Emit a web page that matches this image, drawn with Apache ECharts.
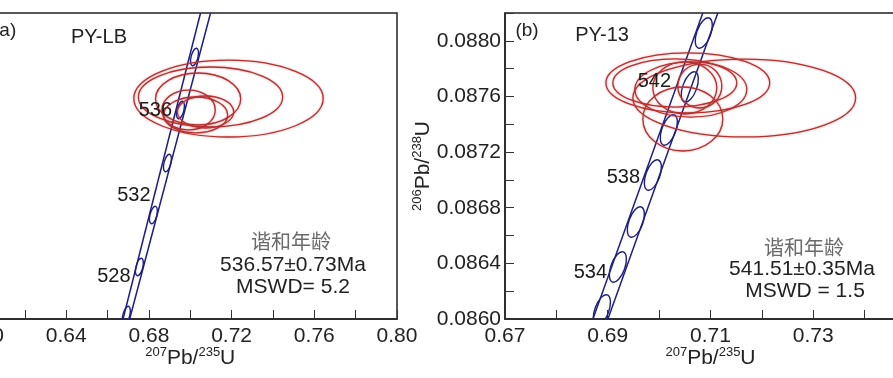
<!DOCTYPE html>
<html>
<head>
<meta charset="utf-8">
<script src="https://cdn.jsdelivr.net/npm/echarts@6/dist/echarts.min.js"></script>
<style>
  html, body { margin: 0; padding: 0; background: #fff; }
  #chart { width: 893px; height: 378px; }
</style>
</head>
<body>
<div id="chart"></div>
<script>
  // ---- 数据 (a) PY-LB ----
  // 椭圆: [207Pb/235U, 206Pb/238U, 半轴x, 半轴y]
  const ellipsesA = [
    [0.7185, 0.086882, 0.0458, 0.000503],
    [0.7098, 0.086902, 0.0349, 0.000392],
    [0.7038, 0.086876, 0.0206, 0.000340],
    [0.6992, 0.086732, 0.0129, 0.000261],
    [0.7026, 0.086667, 0.0155, 0.000235],
    [0.7074, 0.086706, 0.0136, 0.000209]
  ];
  // 谐和线刻度点
  const ticksA = [
    [0.66909, 0.084052], [0.67539, 0.084680], [0.68218, 0.085359],
    [0.68897, 0.086039], [0.69527, 0.086732], [0.70206, 0.087425]
  ];
  const bandALeft = [[0.66749, 0.0840], [0.70497, 0.0880]];
  const bandARight = [[0.67069, 0.0840], [0.70982, 0.0880]];
  const ageLabelsA = [[0.66303, 0.084562, '528'], [0.67273, 0.085614, '532'], [0.68315, 0.086732, '536']];

  // ---- 数据 (b) PY-13 ----
  const ellipsesB = [
    [0.71657, 0.087589, 0.02168, 0.000280],
    [0.70558, 0.087697, 0.01594, 0.000216],
    [0.70305, 0.087697, 0.01206, 0.000173],
    [0.70461, 0.087438, 0.00778, 0.000230],
    [0.70500, 0.087661, 0.00622, 0.000187],
    [0.70792, 0.087675, 0.00428, 0.000158],
    [0.70617, 0.087650, 0.01089, 0.000198]
  ];
  const ticksB = [
    [0.68886, 0.086065], [0.69197, 0.086374], [0.69547, 0.086697],
    [0.69878, 0.087035], [0.70189, 0.087359], [0.70597, 0.087668], [0.70869, 0.088056]
  ];
  const bandBLeft = [[0.68711, 0.0860], [0.70850, 0.0882]];
  const bandBRight = [[0.69003, 0.0860], [0.71142, 0.0882]];
  const ageLabelsB = [[0.69907, 0.087708, '542'], [0.69304, 0.087017, '538'], [0.68662, 0.086334, '534']];

  const FONT = '"Liberation Sans", Arial, "Noto Sans CJK SC", sans-serif';
  const RED = '#b23232';
  const BLUE = '#1e1e82';

  const chart = echarts.init(document.getElementById('chart'));

  const ellipseItem = (params, api) => {
    const c = api.coord([api.value(0), api.value(1)]);
    const s = api.size([api.value(2), api.value(3)]);
    return {
      type: 'ellipse',
      shape: { cx: c[0], cy: c[1], rx: s[0], ry: s[1] },
      style: { fill: 'none', stroke: RED, lineWidth: 1.3, shadowBlur: 2, shadowColor: 'rgba(220,40,40,0.5)' }
    };
  };

  const tickItem = (band, rx, ry) => (params, api) => {
    const c = api.coord([api.value(0), api.value(1)]);
    const p0 = api.coord(band[0]);
    const p1 = api.coord(band[1]);
    const ang = Math.atan2(p1[0] - p0[0], p0[1] - p1[1]);
    return {
      type: 'ellipse',
      x: c[0], y: c[1], rotation: -ang,
      shape: { cx: 0, cy: 0, rx: rx, ry: ry },
      style: { fill: 'none', stroke: BLUE, lineWidth: 1.4 }
    };
  };

  const axisCommon = {
    axisLine: { show: true, onZero: false, lineStyle: { color: '#222', width: 1.5 } },
    axisTick: { show: true, inside: true, length: 9, lineStyle: { color: '#333', width: 1 } },
    splitLine: { show: false },
    nameMoveOverlap: false
  };
  const labelFont = { fontSize: 21, color: '#222', fontFamily: FONT };
  const titleRich = {
    s: { fontSize: 13, color: '#222', fontFamily: FONT, verticalAlign: 'top', lineHeight: 14 },
    n: { fontSize: 21, color: '#222', fontFamily: FONT, lineHeight: 24 }
  };

  const bandLine = (data, idx) => ({
    type: 'line', data: data, xAxisIndex: idx, yAxisIndex: idx,
    symbol: 'none', lineStyle: { color: BLUE, width: 1.5 }, clip: true, silent: true, z: 3
  });
  const ageLabels = (data, idx) => ({
    type: 'scatter', data: data, xAxisIndex: idx, yAxisIndex: idx, symbolSize: 0,
    itemStyle: { color: '#222', opacity: 1 },
    label: {
      show: true, position: 'inside', formatter: p => p.value[2], fontSize: 20,
      color: '#1a1a1a', fontFamily: FONT, textBorderWidth: 0, textBorderColor: 'transparent', opacity: 1
    },
    silent: true, z: 6
  });

  const option = {
    backgroundColor: '#fff',
    animation: false,
    grid: [
      { left: -16.5, right: 496, top: 13, bottom: 59, show: true, borderColor: '#222', borderWidth: 1.5, outerBoundsMode: 'none', containLabel: false },
      { left: 505, right: -23, top: 13, bottom: 59, show: true, borderColor: '#222', borderWidth: 1.5, outerBoundsMode: 'none', containLabel: false }
    ],
    xAxis: [
      Object.assign({}, axisCommon, {
        type: 'value', gridIndex: 0, min: 0.60, max: 0.80, interval: 0.02,
        axisLabel: Object.assign({ margin: 7, formatter: v => Math.round(v * 100) % 4 === 0 ? v.toFixed(2) : '' }, labelFont),
        name: '{s|207}{n|Pb/}{s|235}{n|U}', nameLocation: 'middle', nameGap: 27,
        nameTextStyle: { rich: titleRich }
      }),
      Object.assign({}, axisCommon, {
        type: 'value', gridIndex: 1, min: 0.67, max: 0.75, interval: 0.01,
        axisLabel: Object.assign({ margin: 7, formatter: v => Math.round(v * 100) % 2 === 1 ? v.toFixed(2) : '' }, labelFont),
        name: '{s|207}{n|Pb/}{s|235}{n|U}', nameLocation: 'middle', nameGap: 27,
        nameTextStyle: { rich: titleRich }
      })
    ],
    yAxis: [
      Object.assign({}, axisCommon, {
        type: 'value', gridIndex: 0, min: 0.0840, max: 0.0880, interval: 0.0002,
        axisLabel: Object.assign({ margin: 4, formatter: v => Math.round(v * 10000) % 4 === 0 ? v.toFixed(4) : '' }, labelFont)
      }),
      Object.assign({}, axisCommon, {
        type: 'value', gridIndex: 1, min: 0.0860, max: 0.0882, interval: 0.0002,
        axisLabel: Object.assign({ margin: 4, formatter: v => Math.round(v * 10000) % 4 === 0 ? v.toFixed(4) : '' }, labelFont),
        name: '{s|206}{n|Pb/}{s|238}{n|U}', nameLocation: 'middle', nameGap: 70,
        nameTextStyle: { rich: titleRich }
      })
    ],
    graphic: [
      { type: 'text', x: -7, y: 31, style: { text: '(a)', font: '19px ' + FONT, fill: '#222', textAlign: 'left', textVerticalAlign: 'middle', verticalAlign: 'middle' } },
      { type: 'text', x: 99, y: 37, style: { text: 'PY-LB', font: '20px ' + FONT, fill: '#222', textAlign: 'center', textVerticalAlign: 'middle', verticalAlign: 'middle' } },
      { type: 'text', x: 291, y: 241, style: { text: '谐和年龄', font: '20px "Noto Sans CJK SC"', fill: '#6a6a6a', textAlign: 'center', textVerticalAlign: 'middle', verticalAlign: 'middle' } },
      { type: 'text', x: 293, y: 265, style: { text: '536.57±0.73Ma', font: '21px ' + FONT, fill: '#222', textAlign: 'center', textVerticalAlign: 'middle', verticalAlign: 'middle' } },
      { type: 'text', x: 293, y: 287, style: { text: 'MSWD= 5.2', font: '21px ' + FONT, fill: '#222', textAlign: 'center', textVerticalAlign: 'middle', verticalAlign: 'middle' } },
      { type: 'text', x: 527, y: 31, style: { text: '(b)', font: '19px ' + FONT, fill: '#222', textAlign: 'center', textVerticalAlign: 'middle', verticalAlign: 'middle' } },
      { type: 'text', x: 602, y: 35, style: { text: 'PY-13', font: '20px ' + FONT, fill: '#222', textAlign: 'center', textVerticalAlign: 'middle', verticalAlign: 'middle' } },
      { type: 'text', x: 804, y: 247, style: { text: '谐和年龄', font: '20px "Noto Sans CJK SC"', fill: '#6a6a6a', textAlign: 'center', textVerticalAlign: 'middle', verticalAlign: 'middle' } },
      { type: 'text', x: 802, y: 269, style: { text: '541.51±0.35Ma', font: '21px ' + FONT, fill: '#222', textAlign: 'center', textVerticalAlign: 'middle', verticalAlign: 'middle' } },
      { type: 'text', x: 805, y: 291, style: { text: 'MSWD = 1.5', font: '21px ' + FONT, fill: '#222', textAlign: 'center', textVerticalAlign: 'middle', verticalAlign: 'middle' } }
    ],
    series: [
      bandLine(bandALeft, 0),
      bandLine(bandARight, 0),
      { type: 'custom', xAxisIndex: 0, yAxisIndex: 0, data: ticksA, renderItem: tickItem(bandALeft, 3.4, 9), clip: true, z: 3, silent: true },
      { type: 'custom', xAxisIndex: 0, yAxisIndex: 0, data: ellipsesA, renderItem: ellipseItem, clip: true, z: 4, silent: true },
      ageLabels(ageLabelsA, 0),

      bandLine(bandBLeft, 1),
      bandLine(bandBRight, 1),
      { type: 'custom', xAxisIndex: 1, yAxisIndex: 1, data: ticksB, renderItem: tickItem(bandBLeft, 7, 16), clip: true, z: 3, silent: true },
      { type: 'custom', xAxisIndex: 1, yAxisIndex: 1, data: ellipsesB, renderItem: ellipseItem, clip: true, z: 4, silent: true },
      ageLabels(ageLabelsB, 1)
    ]
  };

  chart.setOption(option);
</script>
</body>
</html>
